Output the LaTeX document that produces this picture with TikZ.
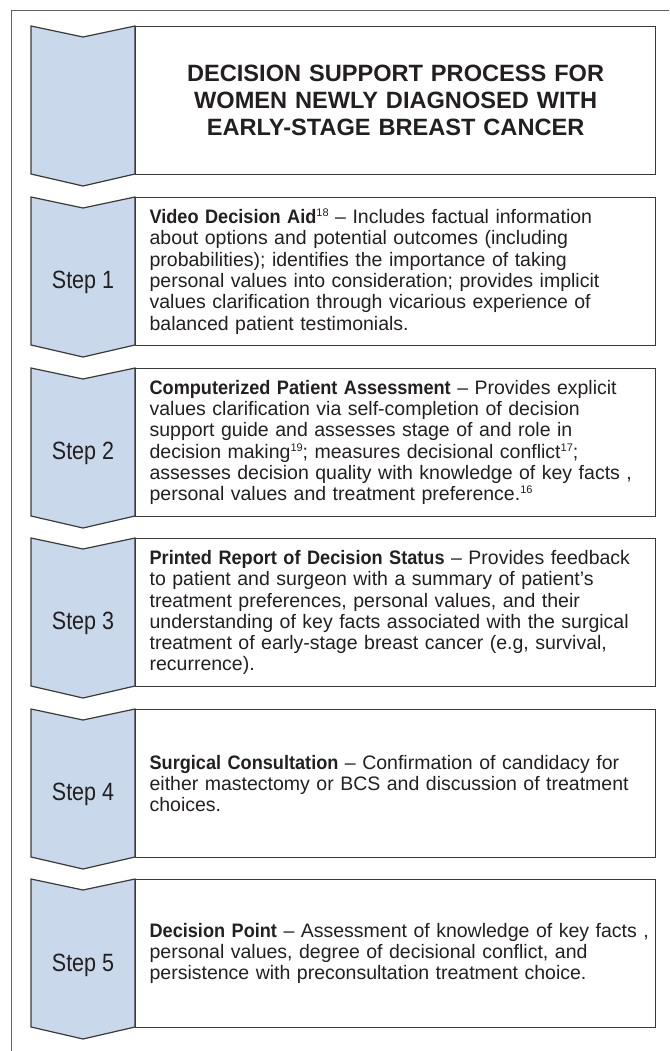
\documentclass[tikz,border=0pt]{standalone}
\usepackage{fontspec}
\setmainfont{Liberation Sans}[BoldFeatures={FakeStretch=0.93}]
\newfontfamily\titlefont{Liberation Sans Bold}
\newfontfamily\stepfont[FakeStretch=0.86]{Liberation Sans}
\newcommand{\sups}[1]{\raisebox{7pt}{\fontsize{11}{11}\selectfont #1}}
\hyphenpenalty=10000
\exhyphenpenalty=10000
\hbadness=10000
\hfuzz=30pt
\definecolor{chevfill}{HTML}{C9D8EB}
\definecolor{ink}{HTML}{231F20}
\definecolor{edge}{HTML}{3A3A3A}
\begin{document}
\begin{tikzpicture}[x=1pt,y=-1pt,
  chev/.style={fill=chevfill,draw=edge,line width=1.2pt,line join=miter},
  box/.style={draw=edge,line width=1.2pt,minimum width=520pt,minimum height=148pt,
    inner xsep=14pt,inner ysep=0pt,text width=492pt,align=left,anchor=north west,
    font=\fontsize{19.5}{21.3}\selectfont,text=ink},
  steplabel/.style={font=\stepfont\fontsize{25}{27}\selectfont,text=ink,inner sep=0pt}]
\useasboundingbox (0,0) rectangle (669,1051);
\draw[draw=edge!80,line width=1pt] (669,11) -- (11,11) -- (11,1052);

% title
\draw[chev] (31,26) -- (83,37) -- (135,26) -- (135,174) -- (83,186) -- (31,174) -- cycle;
\node[box,font=\titlefont\fontsize{23.6}{27}\selectfont,align=center] (title) at (135,26)
  {DECISION SUPPORT PROCESS FOR\\WOMEN NEWLY DIAGNOSED WITH\\EARLY-STAGE BREAST CANCER};

% step 1
\draw[chev] (31,197) -- (83,208) -- (135,197) -- (135,345) -- (83,357) -- (31,345) -- cycle;
\node[steplabel] (s1) at (83,282) {Step 1};
\node[box] (b1) at (135,197)
  {\textbf{Video Decision Aid}\sups{18} – Includes factual information\\
   about options and potential outcomes (including\\
   probabilities); identifies the importance of taking\\
   personal values into consideration; provides implicit\\
   values clarification through vicarious experience of\\
   balanced patient testimonials.};

% step 2
\draw[chev] (31,368) -- (83,379) -- (135,368) -- (135,516) -- (83,528) -- (31,516) -- cycle;
\node[steplabel] (s2) at (83,453) {Step 2};
\node[box] (b2) at (135,368)
  {\textbf{Computerized Patient Assessment} – Provides explicit\\
   values clarification via self-completion of decision\\
   support guide and assesses stage of and role in\\
   decision making\sups{19}; measures decisional conflict\sups{17};\\
   \mbox{assesses decision quality with knowledge of key facts ,}\\
   personal values and treatment preference.\sups{16}};

% step 3
\draw[chev] (31,538) -- (83,549) -- (135,538) -- (135,686) -- (83,698) -- (31,686) -- cycle;
\node[steplabel] (s3) at (83,623) {Step 3};
\node[box] (b3) at (135,538)
  {\textbf{Printed Report of Decision Status} – Provides feedback\\
   to patient and surgeon with a summary of patient’s\\
   treatment preferences, personal values, and their\\
   understanding of key facts associated with the surgical\\
   treatment of early-stage breast cancer (e.g, survival,\\
   recurrence).};

% step 4
\draw[chev] (31,709) -- (83,720) -- (135,709) -- (135,857) -- (83,869) -- (31,857) -- cycle;
\node[steplabel] (s4) at (83,794) {Step 4};
\node[box] (b4) at (135,709)
  {\textbf{Surgical Consultation} – Confirmation of candidacy for\\
   either mastectomy or BCS and discussion of treatment\\
   choices.};

% step 5
\draw[chev] (31,879) -- (83,890) -- (135,879) -- (135,1027) -- (83,1039) -- (31,1027) -- cycle;
\node[steplabel] (s5) at (83,965) {Step 5};
\node[box] (b5) at (135,879)
  {\mbox{\textbf{Decision Point} – Assessment of knowledge of key facts ,}\\
   personal values, degree of decisional conflict, and\\
   persistence with preconsultation treatment choice.};
\end{tikzpicture}
\end{document}
